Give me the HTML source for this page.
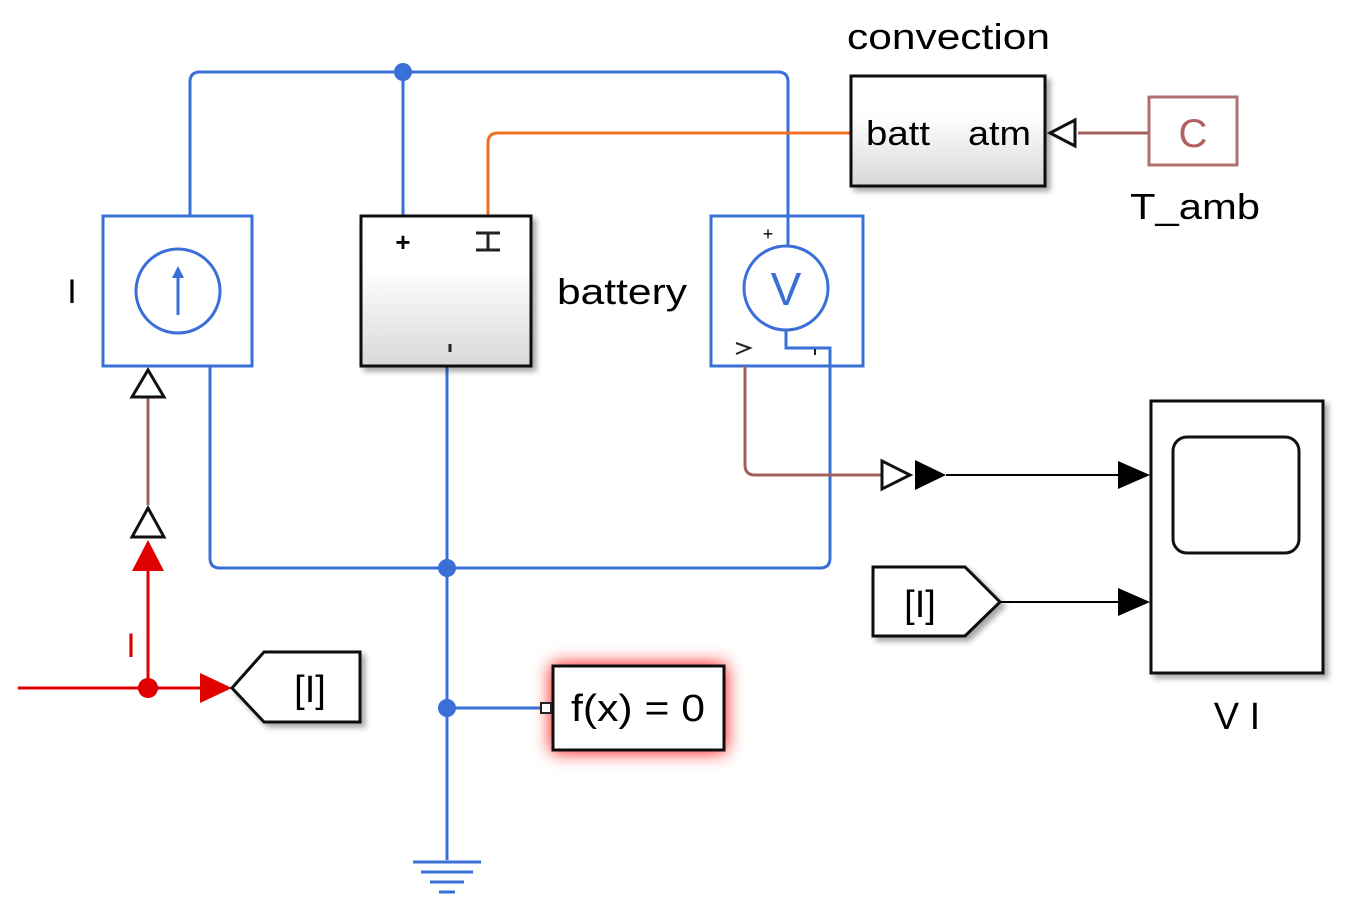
<!DOCTYPE html>
<html><head><style>body{margin:0;background:#fff}svg{display:block}text{font-family:"Liberation Sans",sans-serif}</style></head><body>
<svg width="1350" height="920" viewBox="0 0 1350 920" xmlns="http://www.w3.org/2000/svg">
<defs>
<linearGradient id="g" x1="0" y1="0" x2="0" y2="1"><stop offset="0" stop-color="#fff"/><stop offset="0.35" stop-color="#fff"/><stop offset="1" stop-color="#d8d8d8"/></linearGradient>
<filter id="sh" x="-10%" y="-10%" width="130%" height="130%"><feDropShadow dx="4" dy="4" stdDeviation="3" flood-color="#000" flood-opacity="0.35"/></filter>
<filter id="glow" x="-30%" y="-40%" width="160%" height="180%"><feDropShadow dx="0" dy="0" stdDeviation="9" flood-color="#f00" flood-opacity="1"/></filter>
</defs>
<g fill="none" stroke="#3a6fd8" stroke-width="3">
<path d="M190 216 V82 Q190 72 200 72 H778 Q788 72 788 82 V248"/>
<path d="M403 72 V216"/>
<path d="M210 366 V558 Q210 568 220 568 H820 Q830 568 830 558 V348 H786 V330"/>
<path d="M447 366 V860"/>
<path d="M447 708 H545"/>
</g>
<g fill="#3a6fd8"><circle cx="403" cy="72" r="9"/><circle cx="447" cy="568" r="9"/><circle cx="447" cy="708" r="9"/></g>
<path d="M488 216 V143 Q488 133 498 133 H851" fill="none" stroke="#f07020" stroke-width="3"/>
<g stroke="#3a6fd8" stroke-width="3"><line x1="413" y1="862" x2="481" y2="862"/><line x1="421" y1="872" x2="473" y2="872"/><line x1="430" y1="882" x2="464" y2="882"/><line x1="439" y1="892" x2="455" y2="892"/></g>
<rect x="103" y="216" width="149" height="150" fill="#fff" stroke="#3a6fd8" stroke-width="3"/>
<circle cx="178" cy="291" r="42" fill="none" stroke="#3a6fd8" stroke-width="3"/>
<path d="M178 315 V272" stroke="#3a6fd8" stroke-width="3"/><path d="M172 278 L178 266 L184 278Z" fill="#3a6fd8"/>
<text x="72" y="303" font-size="34" text-anchor="middle">I</text>
<rect x="361" y="216" width="170" height="150" fill="url(#g)" stroke="#111" stroke-width="3" filter="url(#sh)"/>
<text x="403" y="251" font-size="26" text-anchor="middle" font-weight="bold">+</text>
<path d="M476 233 H500 M488 233 V250 M476 250 H500" stroke="#222" stroke-width="3"/>
<line x1="450" y1="344" x2="450" y2="352" stroke="#222" stroke-width="3"/>
<text x="557" y="304" font-size="36" textLength="130" lengthAdjust="spacingAndGlyphs">battery</text>
<rect x="711" y="216" width="152" height="150" fill="none" stroke="#3a6fd8" stroke-width="3"/>
<path d="M788 216 V248" stroke="#3a6fd8" stroke-width="3"/>
<circle cx="786" cy="288" r="42" fill="#fff" stroke="#3a6fd8" stroke-width="3"/>
<text x="786" y="305" font-size="46" text-anchor="middle" fill="#3a6fd8" font-family="Liberation Serif">V</text>
<text x="768" y="240" font-size="18" text-anchor="middle">+</text>
<path d="M736 343 L750 348 L736 354" fill="none" stroke="#222" stroke-width="2"/>
<line x1="815" y1="349" x2="815" y2="355" stroke="#222" stroke-width="2"/>
<text x="847" y="49" font-size="36" textLength="203" lengthAdjust="spacingAndGlyphs">convection</text>
<rect x="851" y="76" width="194" height="110" fill="url(#g)" stroke="#111" stroke-width="3" filter="url(#sh)"/>
<text x="866" y="145" font-size="34" textLength="64" lengthAdjust="spacingAndGlyphs">batt</text>
<text x="968" y="145" font-size="34" textLength="63" lengthAdjust="spacingAndGlyphs">atm</text>
<path d="M1078 133 H1149" stroke="#a06060" stroke-width="3"/>
<path d="M1075 120 L1050 133 L1075 146Z" fill="#fff" stroke="#111" stroke-width="3"/>
<rect x="1149" y="97" width="88" height="68" fill="#fff" stroke="#b07070" stroke-width="3"/>
<text x="1193" y="147" font-size="40" text-anchor="middle" fill="#b06060">C</text>
<text x="1130" y="219" font-size="36" textLength="130" lengthAdjust="spacingAndGlyphs">T_amb</text>
<path d="M745 366 V465 Q745 475 755 475 H882" fill="none" stroke="#a06060" stroke-width="3"/>
<path d="M882 461 L910 475 L882 489Z" fill="#fff" stroke="#111" stroke-width="3"/>
<path d="M915 460 L946 475 L915 490Z" fill="#000"/>
<path d="M946 475 H1120" stroke="#000" stroke-width="2"/>
<path d="M1118 461 L1150 475 L1118 489Z" fill="#000"/>
<rect x="1151" y="401" width="172" height="272" fill="#fff" stroke="#111" stroke-width="3" filter="url(#sh)"/>
<rect x="1173" y="437" width="126" height="116" rx="14" fill="#fff" stroke="#111" stroke-width="3"/>
<text x="1237" y="729" font-size="38" text-anchor="middle">V I</text>
<path d="M873 567 H965 L1000 602 L965 636 H873Z" fill="#fff" stroke="#111" stroke-width="3" filter="url(#sh)"/>
<text x="920" y="617" font-size="38" text-anchor="middle">[I]</text>
<path d="M1000 602 H1120" stroke="#000" stroke-width="2"/>
<path d="M1118 588 L1150 602 L1118 616Z" fill="#000"/>
<path d="M18 688 H205 M148 688 V570" stroke="#e00000" stroke-width="3"/>
<circle cx="148" cy="688" r="10" fill="#e00000"/>
<path d="M200 673 L232 688 L200 703Z" fill="#e00000"/>
<path d="M132 571 L148 540 L164 571Z" fill="#e00000"/>
<path d="M148 505 V398" stroke="#a06060" stroke-width="3"/>
<path d="M132 537 L148 508 L164 537Z" fill="#fff" stroke="#111" stroke-width="3"/>
<path d="M132 397 L148 370 L164 397Z" fill="#fff" stroke="#111" stroke-width="3"/>
<text x="131" y="657" font-size="34" text-anchor="middle" fill="#e00000">I</text>
<path d="M232 688 L264 652 H360 V722 H264Z" fill="#fff" stroke="#111" stroke-width="3" filter="url(#sh)"/>
<text x="310" y="702" font-size="38" text-anchor="middle">[I]</text>
<rect x="553" y="666" width="171" height="84" fill="#fff" stroke="#111" stroke-width="3" filter="url(#glow)"/>
<rect x="541" y="703" width="10" height="10" fill="#fff" stroke="#222" stroke-width="2"/>
<text x="571" y="721" font-size="38" textLength="134" lengthAdjust="spacingAndGlyphs">f(x) = 0</text>
</svg>
</body></html>
